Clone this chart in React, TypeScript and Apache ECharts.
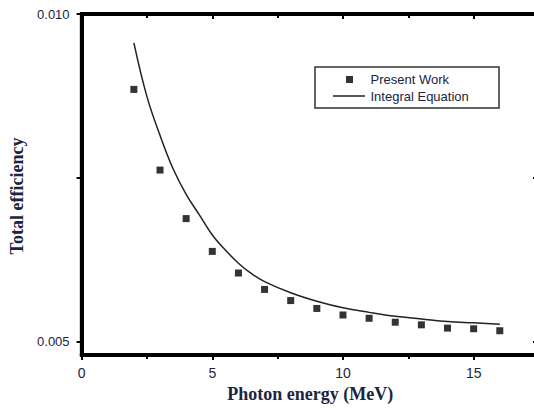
import React, { useEffect, useRef } from "react";
import * as echarts from "echarts";

const energyPoints = [2, 3, 4, 5, 6, 7, 8, 9, 10, 11, 12, 13, 14, 15, 16];
const presentWork = [
  0.00885, 0.00762, 0.00688, 0.00638, 0.00605, 0.0058, 0.00563, 0.00551,
  0.00541, 0.00536, 0.0053, 0.00526, 0.00521, 0.0052, 0.00517,
];
const curveEnergy = [2, 2.5, 3, 3.5, 4, 4.5, 5, 5.5, 6, 6.5, 7, 8, 9, 10, 11, 12, 13, 14, 15, 16];
const integralEquation = [
  0.00956, 0.00874, 0.00815, 0.00764, 0.00725, 0.00694, 0.00663, 0.0064,
  0.0062, 0.00604, 0.00592, 0.00575, 0.00562, 0.00552, 0.00545, 0.00539,
  0.00535, 0.00531, 0.00529, 0.00527,
];
const yLabelValues = [0.005, 0.01];
const yTickValues = [0.005, 0.0075, 0.01];

const labelColor = "#1b2440";
const axisColor = "#000";
const sans = "'Liberation Sans', Arial, sans-serif";
const serif = "'Liberation Serif', 'Times New Roman', serif";

const makeAxisLine = () => ({
  show: true,
  onZero: false,
  lineStyle: { color: axisColor, width: 4 },
});
const tickStyle = () => ({ width: 2, color: axisColor });

export default function App() {
  const ref = useRef<HTMLDivElement>(null);
  useEffect(() => {
    if (!ref.current) return;
    const chart = echarts.init(ref.current, null, { renderer: "svg" });
    chart.setOption({
      animation: false,
      backgroundColor: "#fff",
      grid: {
        left: 81.6,
        top: 14,
        right: 1,
        bottom: 49,
        show: true,
        backgroundColor: "transparent",
        borderColor: axisColor,
        borderWidth: 3.5,
      },
      xAxis: [
        {
          type: "value",
          min: 0,
          max: 17.5,
          interval: 5,
          splitLine: { show: false },
          axisLine: makeAxisLine(),
          position: "bottom",
          name: "Photon energy (MeV)",
          nameLocation: "middle",
          nameGap: 30,
          nameTextStyle: { fontFamily: serif, fontWeight: "bold", fontSize: 18, color: labelColor },
          axisTick: { show: true, inside: false, length: 5, lineStyle: tickStyle() },
          minorTick: { show: true, splitNumber: 2, length: 4, lineStyle: tickStyle() },
          axisLabel: {
            showMaxLabel: false,
            margin: 11,
            fontFamily: sans,
            fontSize: 14,
            color: labelColor,
          },
        },
        {
          type: "value",
          min: 0,
          max: 17.5,
          interval: 5,
          splitLine: { show: false },
          axisLine: makeAxisLine(),
          position: "top",
          axisTick: { show: true, inside: true, length: 5, lineStyle: tickStyle() },
          minorTick: { show: true, splitNumber: 2, length: 4, lineStyle: tickStyle() },
          axisLabel: { show: false },
        },
      ],
      yAxis: [
        {
          type: "value",
          min: 0.0048,
          max: 0.01,
          splitLine: { show: false },
          axisLine: makeAxisLine(),
          position: "left",
          name: "Total efficiency",
          nameLocation: "middle",
          nameGap: 43,
          nameTextStyle: {
            fontFamily: serif,
            fontWeight: "bold",
            fontSize: 18,
            color: labelColor,
            padding: [0, 23, 0, 0],
          },
          axisTick: {
            show: true,
            inside: false,
            length: 5,
            customValues: yTickValues,
            lineStyle: tickStyle(),
          },
          axisLabel: {
            customValues: yLabelValues,
            margin: 12,
            fontFamily: sans,
            fontSize: 13,
            color: labelColor,
            formatter: (v: number) => v.toFixed(3),
          },
        },
        {
          type: "value",
          min: 0.0048,
          max: 0.01,
          splitLine: { show: false },
          axisLine: makeAxisLine(),
          position: "right",
          axisTick: {
            show: true,
            inside: true,
            length: 6,
            customValues: yTickValues,
            lineStyle: tickStyle(),
          },
          axisLabel: { show: false },
        },
      ],
      legend: [
        {
          data: [{ name: "Present Work", icon: "rect" }],
          left: 346,
          top: 73,
          itemWidth: 7,
          itemHeight: 7,
          padding: 0,
          textStyle: { fontFamily: sans, fontSize: 13, color: labelColor, padding: [0, 0, 0, 12.5] },
        },
        {
          data: [{ name: "Integral Equation", icon: "rect" }],
          left: 333,
          top: 89.5,
          itemWidth: 32,
          itemHeight: 1.5,
          padding: 0,
          textStyle: { fontFamily: sans, fontSize: 13, color: labelColor, padding: [0, 0, 0, 0.5] },
        },
      ],
      graphic: [
        {
          type: "rect",
          shape: { x: 315, y: 67, width: 184, height: 41 },
          style: { fill: "none", stroke: "#333", lineWidth: 1.5 },
          z: 10,
        },
      ],
      series: [
        {
          name: "Present Work",
          type: "scatter",
          symbol: "rect",
          symbolSize: 7,
          itemStyle: { color: "#000" },
          data: energyPoints.map((x, i) => [x, presentWork[i]]),
        },
        {
          name: "Integral Equation",
          type: "line",
          smooth: 0.4,
          showSymbol: false,
          symbol: "none",
          lineStyle: { color: "#222", width: 1.5 },
          itemStyle: { color: "#222" },
          data: curveEnergy.map((x, i) => [x, integralEquation[i]]),
        },
      ],
    });
    return () => chart.dispose();
  }, []);
  return (
    <div
      ref={ref}
      style={{ position: "fixed", left: 0, top: 0, width: 540, height: 408 }}
    />
  );
}
